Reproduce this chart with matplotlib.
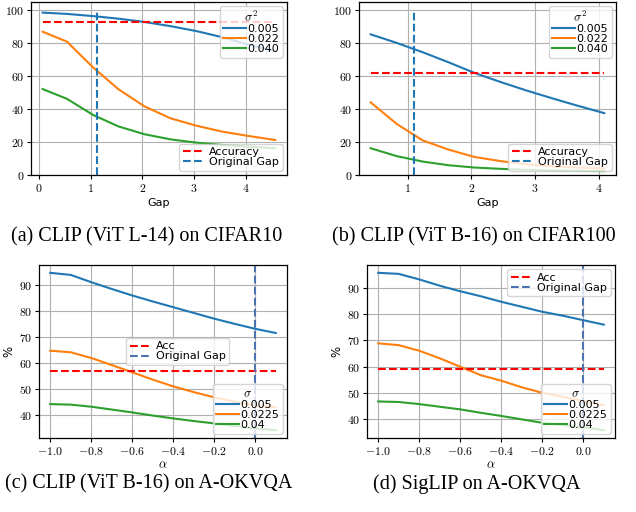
import numpy as np
import matplotlib.pyplot as plt
from matplotlib.ticker import FuncFormatter

plt.rcParams['mathtext.fontset'] = 'cm'

# (a) CLIP ViT L-14 on CIFAR10
gap_a = [0.07, 0.54, 1.04, 1.54, 2.04, 2.54, 3.04, 3.54, 4.04, 4.57]
a_005 = [98.6, 97.8, 96.5, 94.9, 92.9, 90.4, 87.4, 83.7, 79.3, 75.2]
a_022 = [87.0, 81.0, 65.5, 52.0, 41.7, 34.5, 30.0, 26.4, 23.8, 21.3]
a_040 = [52.2, 46.3, 36.6, 29.5, 24.8, 21.7, 19.7, 18.3, 17.3, 16.3]
acc_a = 93.1
orig_gap_a = 1.13

# (b) CLIP ViT B-16 on CIFAR100
gap_b = [0.42, 0.83, 1.24, 1.64, 2.05, 2.46, 2.87, 3.28, 3.68, 4.09]
b_005 = [85.4, 80.2, 74.5, 68.5, 62.0, 56.5, 51.3, 46.5, 42.0, 37.6]
b_022 = [44.1, 31.0, 21.0, 15.5, 11.0, 8.5, 6.5, 5.3, 4.6, 4.0]
b_040 = [16.3, 11.5, 8.2, 6.0, 4.6, 3.8, 3.2, 2.8, 2.6, 2.4]
acc_b = 62.0
orig_gap_b = 1.095

# (c) and (d): alpha sweep on A-OKVQA
alpha = [-1.0, -0.9, -0.8, -0.7, -0.6, -0.5, -0.4, -0.3, -0.2, -0.1, 0.0, 0.1]
c_005 = [94.6, 93.8, 91.0, 88.4, 85.9, 83.6, 81.4, 79.2, 77.0, 75.0, 73.1, 71.5]
c_0225 = [64.7, 64.1, 61.9, 59.2, 56.4, 53.6, 51.0, 48.8, 46.8, 45.1, 43.7, 43.0]
c_04 = [44.2, 44.0, 43.2, 42.1, 41.0, 39.8, 38.7, 37.7, 36.8, 35.8, 34.9, 34.2]
acc_c = 57.0

d_005 = [95.7, 95.3, 93.2, 90.8, 88.7, 86.8, 84.7, 82.8, 80.9, 79.4, 77.7, 76.0]
d_0225 = [68.9, 68.2, 66.1, 63.2, 60.0, 56.8, 54.7, 52.2, 50.1, 48.6, 47.0, 45.4]
d_04 = [46.8, 46.6, 45.8, 44.8, 43.8, 42.5, 41.3, 40.0, 38.7, 37.8, 37.0, 35.9]
acc_d = 59.1

captions = ['(a) CLIP (ViT L-14) on CIFAR10', '(b) CLIP (ViT B-16) on CIFAR100',
            '(c) CLIP (ViT B-16) on A-OKVQA', '(d) SigLIP on A-OKVQA']

fig = plt.figure(figsize=(6.36, 5.12), dpi=100)
ax_a = fig.add_axes([0.0487, 0.658, 0.4025, 0.338])
ax_b = fig.add_axes([0.5645, 0.658, 0.404, 0.338])
ax_c = fig.add_axes([0.0613, 0.1445, 0.39, 0.338])
ax_d = fig.add_axes([0.577, 0.1445, 0.39, 0.338])

fmt_int = FuncFormatter(lambda v, p: f'${v:.0f}$')
fmt_1 = FuncFormatter(lambda v, p: f'${v:.1f}$')

sig_kw = dict(fontsize=8, title_fontsize=9, handlelength=2.0, labelspacing=0.0,
              borderpad=0.3, handletextpad=0.15, borderaxespad=0.4)
acc_kw = dict(fontsize=8, handlelength=1.8, labelspacing=0.0, borderpad=0.3,
              handletextpad=0.6, borderaxespad=0.4)


def gap_panel(ax, x, s1, s2, s3, acc, og):
    l1, = ax.plot(x, s1, color='#1f77b4', lw=1.5, label='0.005')
    l2, = ax.plot(x, s2, color='#ff7f0e', lw=1.5, label='0.022')
    l3, = ax.plot(x, s3, color='#2ca02c', lw=1.5, label='0.040')
    h1 = ax.hlines(acc, min(x), max(x), colors='red', linestyles='--', lw=1.5, label='Accuracy')
    h2 = ax.vlines(og, 0, 100, colors='#1f77b4', linestyles='--', lw=1.5, label='Original Gap')
    ax.set_ylim(0, 105)
    ax.set_xlabel('Gap', fontsize=8, labelpad=2)
    leg = ax.legend(handles=[l1, l2, l3], title=r'$\sigma^2$', loc='upper right', **sig_kw)
    ax.add_artist(leg)
    ax.legend(handles=[h1, h2], loc='lower right', **acc_kw)
    ax.xaxis.set_major_formatter(fmt_int)
    ax.yaxis.set_major_formatter(fmt_int)


def alpha_panel(ax, s1, s2, s3, acc, acc_loc, acc_anchor):
    l1, = ax.plot(alpha, s1, color='#1f77b4', lw=1.5, label='0.005')
    l2, = ax.plot(alpha, s2, color='#ff7f0e', lw=1.5, label='0.0225')
    l3, = ax.plot(alpha, s3, color='#2ca02c', lw=1.5, label='0.04')
    h1 = ax.hlines(acc, min(alpha), max(alpha), colors='red', linestyles='--', lw=1.5, label='Acc')
    h2 = ax.axvline(0.0, color='#4c72b0', ls='--', lw=1.5, label='Original Gap')
    ax.set_xlabel(r'$\alpha$', fontsize=9, labelpad=0)
    ax.set_ylabel('%', fontsize=8.5, labelpad=2)
    leg = ax.legend(handles=[l1, l2, l3], title=r'$\sigma$', loc='lower right', **sig_kw)
    ax.add_artist(leg)
    ax.legend(handles=[h1, h2], loc=acc_loc, bbox_to_anchor=acc_anchor, **acc_kw)
    ax.xaxis.set_major_formatter(fmt_1)
    ax.yaxis.set_major_formatter(fmt_int)


gap_panel(ax_a, gap_a, a_005, a_022, a_040, acc_a, orig_gap_a)
gap_panel(ax_b, gap_b, b_005, b_022, b_040, acc_b, orig_gap_b)
alpha_panel(ax_c, c_005, c_0225, c_04, acc_c, 'center', (0.56, 0.5))
alpha_panel(ax_d, d_005, d_0225, d_04, acc_d, 'upper right', None)

for ax in [ax_a, ax_b, ax_c, ax_d]:
    ax.grid(True, color='#b0b0b0', lw=0.8)
    ax.set_axisbelow(True)
    ax.tick_params(labelsize=8.5, length=3, pad=2)
    for s in ax.spines.values():
        s.set_linewidth(0.9)

cap_pos = [(147, 237), (474, 237), (149, 484), (477, 484)]
for (cx, cy), cap in zip(cap_pos, captions):
    fig.text(cx / 636, 1 - cy / 512, cap, ha='center', va='center',
             fontsize=14.5, family='Liberation Serif')

fig.savefig('out.png', dpi=100)
